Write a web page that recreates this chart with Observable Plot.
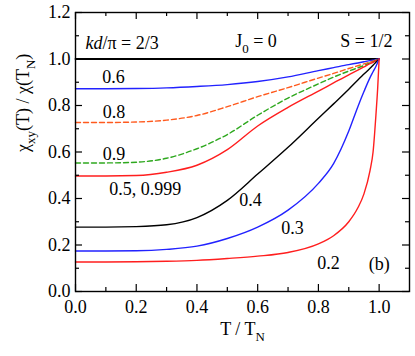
<!DOCTYPE html>
<html><head><meta charset="utf-8">
<script src="https://cdn.jsdelivr.net/npm/d3@7"></script>
<script src="https://cdn.jsdelivr.net/npm/@observablehq/plot@0.6"></script>
<style>body{margin:0;background:#fff;}</style>
</head><body><div id="chart"></div>
<script>
// ---- data ----
const T      = [0, 0.1, 0.2, 0.3, 0.4, 0.5, 0.6, 0.7, 0.8, 0.85, 0.9, 0.93, 0.95, 0.97, 0.98, 0.99, 0.995, 1.0];
const kd_2_3 = [1, 1, 1, 1, 1, 1, 1, 1, 1, 1, 1, 1, 1, 1, 1, 1, 1, 1];
const kd_0_6 = [0.872, 0.872, 0.873, 0.876, 0.882, 0.890, 0.903, 0.923, 0.950, 0.963, 0.976, 0.983, 0.988, 0.993, 0.995, 0.998, 0.999, 1];
const kd_0_8 = [0.727, 0.727, 0.729, 0.737, 0.757, 0.795, 0.838, 0.877, 0.918, 0.938, 0.959, 0.971, 0.979, 0.987, 0.991, 0.996, 0.998, 1];
const kd_0_9 = [0.553, 0.553, 0.556, 0.573, 0.614, 0.675, 0.758, 0.832, 0.893, 0.922, 0.948, 0.962, 0.972, 0.983, 0.988, 0.994, 0.997, 1];
const kd_0_5 = [0.497, 0.497, 0.499, 0.513, 0.543, 0.610, 0.712, 0.792, 0.862, 0.897, 0.932, 0.952, 0.966, 0.980, 0.986, 0.993, 0.996, 1];
const kd_0_4 = [0.277, 0.277, 0.279, 0.287, 0.318, 0.392, 0.505, 0.620, 0.745, 0.807, 0.870, 0.910, 0.935, 0.960, 0.973, 0.987, 0.993, 1];
const kd_0_3 = [0.174, 0.174, 0.175, 0.181, 0.195, 0.228, 0.277, 0.350, 0.465, 0.550, 0.690, 0.795, 0.860, 0.920, 0.945, 0.970, 0.985, 1];
const kd_0_2 = [0.127, 0.127, 0.128, 0.130, 0.134, 0.142, 0.152, 0.168, 0.205, 0.240, 0.300, 0.360, 0.420, 0.520, 0.600, 0.770, 0.870, 1];

const labelText = ["*kd*/π = 2/3", "J_{0} = 0", "S = 1/2", "0.6", "0.8", "0.9", "0.5, 0.999", "0.4", "0.3", "0.2", "(b)"];
const labelX    = [0.033, 0.526, 0.872, 0.125, 0.127, 0.127, 0.230, 0.576, 0.715, 0.833, 1.000];
const labelY    = [1.068, 1.076, 1.076, 0.920, 0.771, 0.592, 0.442, 0.394, 0.270, 0.122, 0.119];

const xMajor = [0, 0.2, 0.4, 0.6, 0.8, 1.0];
const xMinor = [0.1, 0.3, 0.5, 0.7, 0.9];
const yMajor = [0, 0.2, 0.4, 0.6, 0.8, 1.0, 1.2];
const yMinor = [0.1, 0.3, 0.5, 0.7, 0.9, 1.1];

const xTitle = "T / T_{N}";
const yTitle = "χ_{xy}(T) / χ(T_{N})";

// ---- layout / styles ----
const W = 415, H = 356, mL = 75, mR = 6, mT = 12, mB = 65;
const xDom = [0, 1.1], yDom = [0, 1.2];
const pxX = (xDom[1] - xDom[0]) / (W - mL - mR);
const pxY = (yDom[1] - yDom[0]) / (H - mT - mB);
const FS = 18;
const FONT = "Liberation Serif, Times New Roman, serif";

const seriesList = [
  {ys: kd_2_3, stroke: "#000000", dash: null, w: 1.8},
  {ys: kd_0_6, stroke: "#2222ff", dash: null, w: 1.4},
  {ys: kd_0_8, stroke: "#ff5a1e", dash: "5,3", w: 1.4},
  {ys: kd_0_9, stroke: "#2ea81e", dash: "5,3", w: 1.4},
  {ys: kd_0_5, stroke: "#ff1e1e", dash: null, w: 1.4},
  {ys: kd_0_4, stroke: "#000000", dash: null, w: 1.4},
  {ys: kd_0_3, stroke: "#2222ff", dash: null, w: 1.4},
  {ys: kd_0_2, stroke: "#ff1e1e", dash: null, w: 1.4}
];

const labels = labelText.map((t, i) => ({t, x: labelX[i], y: labelY[i]}));

const majLen = 7, minLen = 4;
const tickMarks = [];
for (const [list, len] of [[xMajor, majLen], [xMinor, minLen]]) {
  tickMarks.push(Plot.ruleX(list, {x: d => d, y1: yDom[0], y2: yDom[0] + len * pxY, stroke: "black", strokeWidth: 1.2}));
  tickMarks.push(Plot.ruleX(list, {x: d => d, y1: yDom[1], y2: yDom[1] - len * pxY, stroke: "black", strokeWidth: 1.2}));
}
for (const [list, len] of [[yMajor, majLen], [yMinor, minLen]]) {
  tickMarks.push(Plot.ruleY(list, {y: d => d, x1: xDom[0], x2: xDom[0] + len * pxX, stroke: "black", strokeWidth: 1.2}));
  tickMarks.push(Plot.ruleY(list, {y: d => d, x1: xDom[1], x2: xDom[1] - len * pxX, stroke: "black", strokeWidth: 1.2}));
}

const chart = Plot.plot({
  width: W, height: H,
  marginLeft: mL, marginRight: mR, marginTop: mT, marginBottom: mB,
  style: {background: "white", color: "black"},
  x: {domain: xDom},
  y: {domain: yDom},
  marks: [
    ...seriesList.map(s => Plot.line(T.map((t, i) => ({t, v: s.ys[i]})), {
      x: "t", y: "v", stroke: s.stroke, strokeWidth: s.w, strokeDasharray: s.dash, curve: "monotone-x"
    })),
    ...tickMarks,
    Plot.frame({stroke: "black", strokeWidth: 1.4}),
    Plot.axisX({ticks: xMajor, tickSize: 0, tickPadding: 9, tickFormat: d3.format(".1f"), label: null, fontSize: FS}),
    Plot.axisY({ticks: yMajor, tickSize: 0, tickPadding: 5, tickFormat: d3.format(".1f"), label: null, fontSize: FS}),
    Plot.text(labels, {x: "x", y: "y", text: "t", fontSize: FS, lineAnchor: "middle",
      filter: (d, i) => i < 3, textAnchor: "start"}),
    Plot.text(labels, {x: "x", y: "y", text: "t", fontSize: FS, lineAnchor: "middle",
      filter: (d, i) => i >= 3, textAnchor: "middle"}),
    Plot.text([xTitle], {text: d => d, frameAnchor: "bottom", dy: 38, fontSize: FS, lineAnchor: "middle"}),
    Plot.text([yTitle], {text: d => d, frameAnchor: "left", dx: -52, rotate: -90, fontSize: FS, lineAnchor: "middle"})
  ]
});

// serif face on the whole figure
chart.setAttribute("font-family", FONT);
d3.select(chart).selectAll("g, text").attr("font-family", FONT);

// rich text: _{sub} and *italic*
function rich(node, size) {
  const s = node.textContent;
  if (!/_\{|\*/.test(s)) return;
  node.textContent = "";
  const re = /_\{([^}]*)\}|\*([^*]*)\*|([^_*]+)/g;
  let shift = 0, m;
  while ((m = re.exec(s))) {
    const t = document.createElementNS("http://www.w3.org/2000/svg", "tspan");
    if (m[1] !== undefined) {
      t.textContent = m[1];
      t.setAttribute("font-size", size * 0.72);
      const d = size * 0.3;
      t.setAttribute("dy", d - shift);
      shift = d;
    } else {
      t.textContent = m[2] !== undefined ? m[2] : m[3];
      if (m[2] !== undefined) t.setAttribute("font-style", "italic");
      if (shift) { t.setAttribute("dy", -shift); shift = 0; }
    }
    node.appendChild(t);
  }
}
d3.select(chart).selectAll("text").each(function() { rich(this, FS); });

document.getElementById("chart").appendChild(chart);
</script>
</body></html>
